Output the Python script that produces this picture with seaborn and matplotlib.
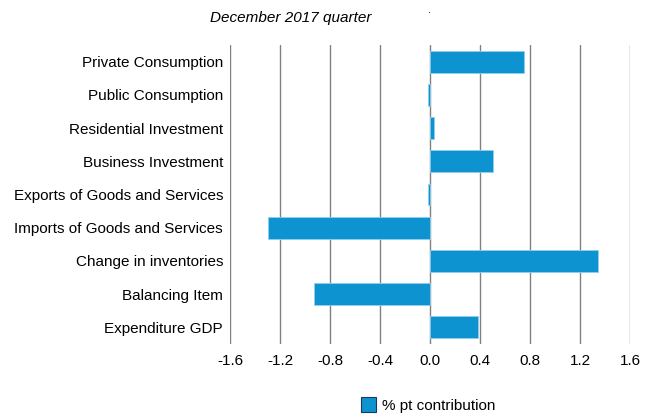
import numpy as np
import pandas as pd
import seaborn as sns
import matplotlib.pyplot as plt
from matplotlib.patches import Patch

# Contributions to GDP growth, December 2017 quarter
components = ['Private Consumption', 'Public Consumption', 'Residential Investment',
              'Business Investment', 'Exports of Goods and Services',
              'Imports of Goods and Services', 'Change in inventories',
              'Balancing Item', 'Expenditure GDP']
contribution = [0.75, -0.02, 0.03, 0.50, -0.02, -1.30, 1.34, -0.93, 0.38]
xticks = [-1.6, -1.2, -0.8, -0.4, 0.0, 0.4, 0.8, 1.2, 1.6]

df = pd.DataFrame({'Component': components, 'Contribution': contribution})

sns.set_style("white")
plt.rcParams['font.family'] = ['Liberation Sans', 'DejaVu Sans']
plt.rcParams['text.color'] = 'black'
plt.rcParams['xtick.color'] = 'black'
plt.rcParams['ytick.color'] = 'black'
bar_color = '#0E93D1'

fig = plt.figure(figsize=(6.51, 4.16), dpi=100)
ax = fig.add_axes([230 / 651, 1 - 344 / 416, 400 / 651, 299 / 416])

sns.barplot(data=df, x='Contribution', y='Component', orient='h', color=bar_color,
            saturation=1, width=0.66, edgecolor='#8fd0ef', linewidth=0.6, ax=ax, zorder=3)

ax.set_xlim(-1.6, 1.6)
ax.set_ylim(8.5, -0.5)
ax.set_xticks(xticks)
ax.set_xticklabels(['%.1f' % t for t in xticks])
ax.grid(axis='x', color='#808080', linewidth=1.0, zorder=0)
ax.grid(axis='y', visible=False)
for s in ax.spines.values():
    s.set_visible(False)
ax.tick_params(axis='both', labelsize=11, length=0)
ax.tick_params(axis='y', pad=5)
ax.tick_params(axis='x', pad=7)
ax.set_xlabel('')
ax.set_ylabel('')

fig.text(291 / 651, 1 - 18 / 416, 'December 2017 quarter', ha='center', va='center',
         fontsize=11, style='italic')
fig.text(430 / 651, 1 - 10 / 416, '.', ha='center', va='center', fontsize=8)

fig.legend(handles=[Patch(facecolor=bar_color, edgecolor='#1a3a5a', linewidth=0.8)],
           labels=['% pt contribution'], loc='center', bbox_to_anchor=(428 / 651, 1 - 405 / 416),
           frameon=False, fontsize=11, handlelength=1.0, handleheight=1.1,
           handletextpad=0.4)

fig.savefig('out.png', dpi=100)
